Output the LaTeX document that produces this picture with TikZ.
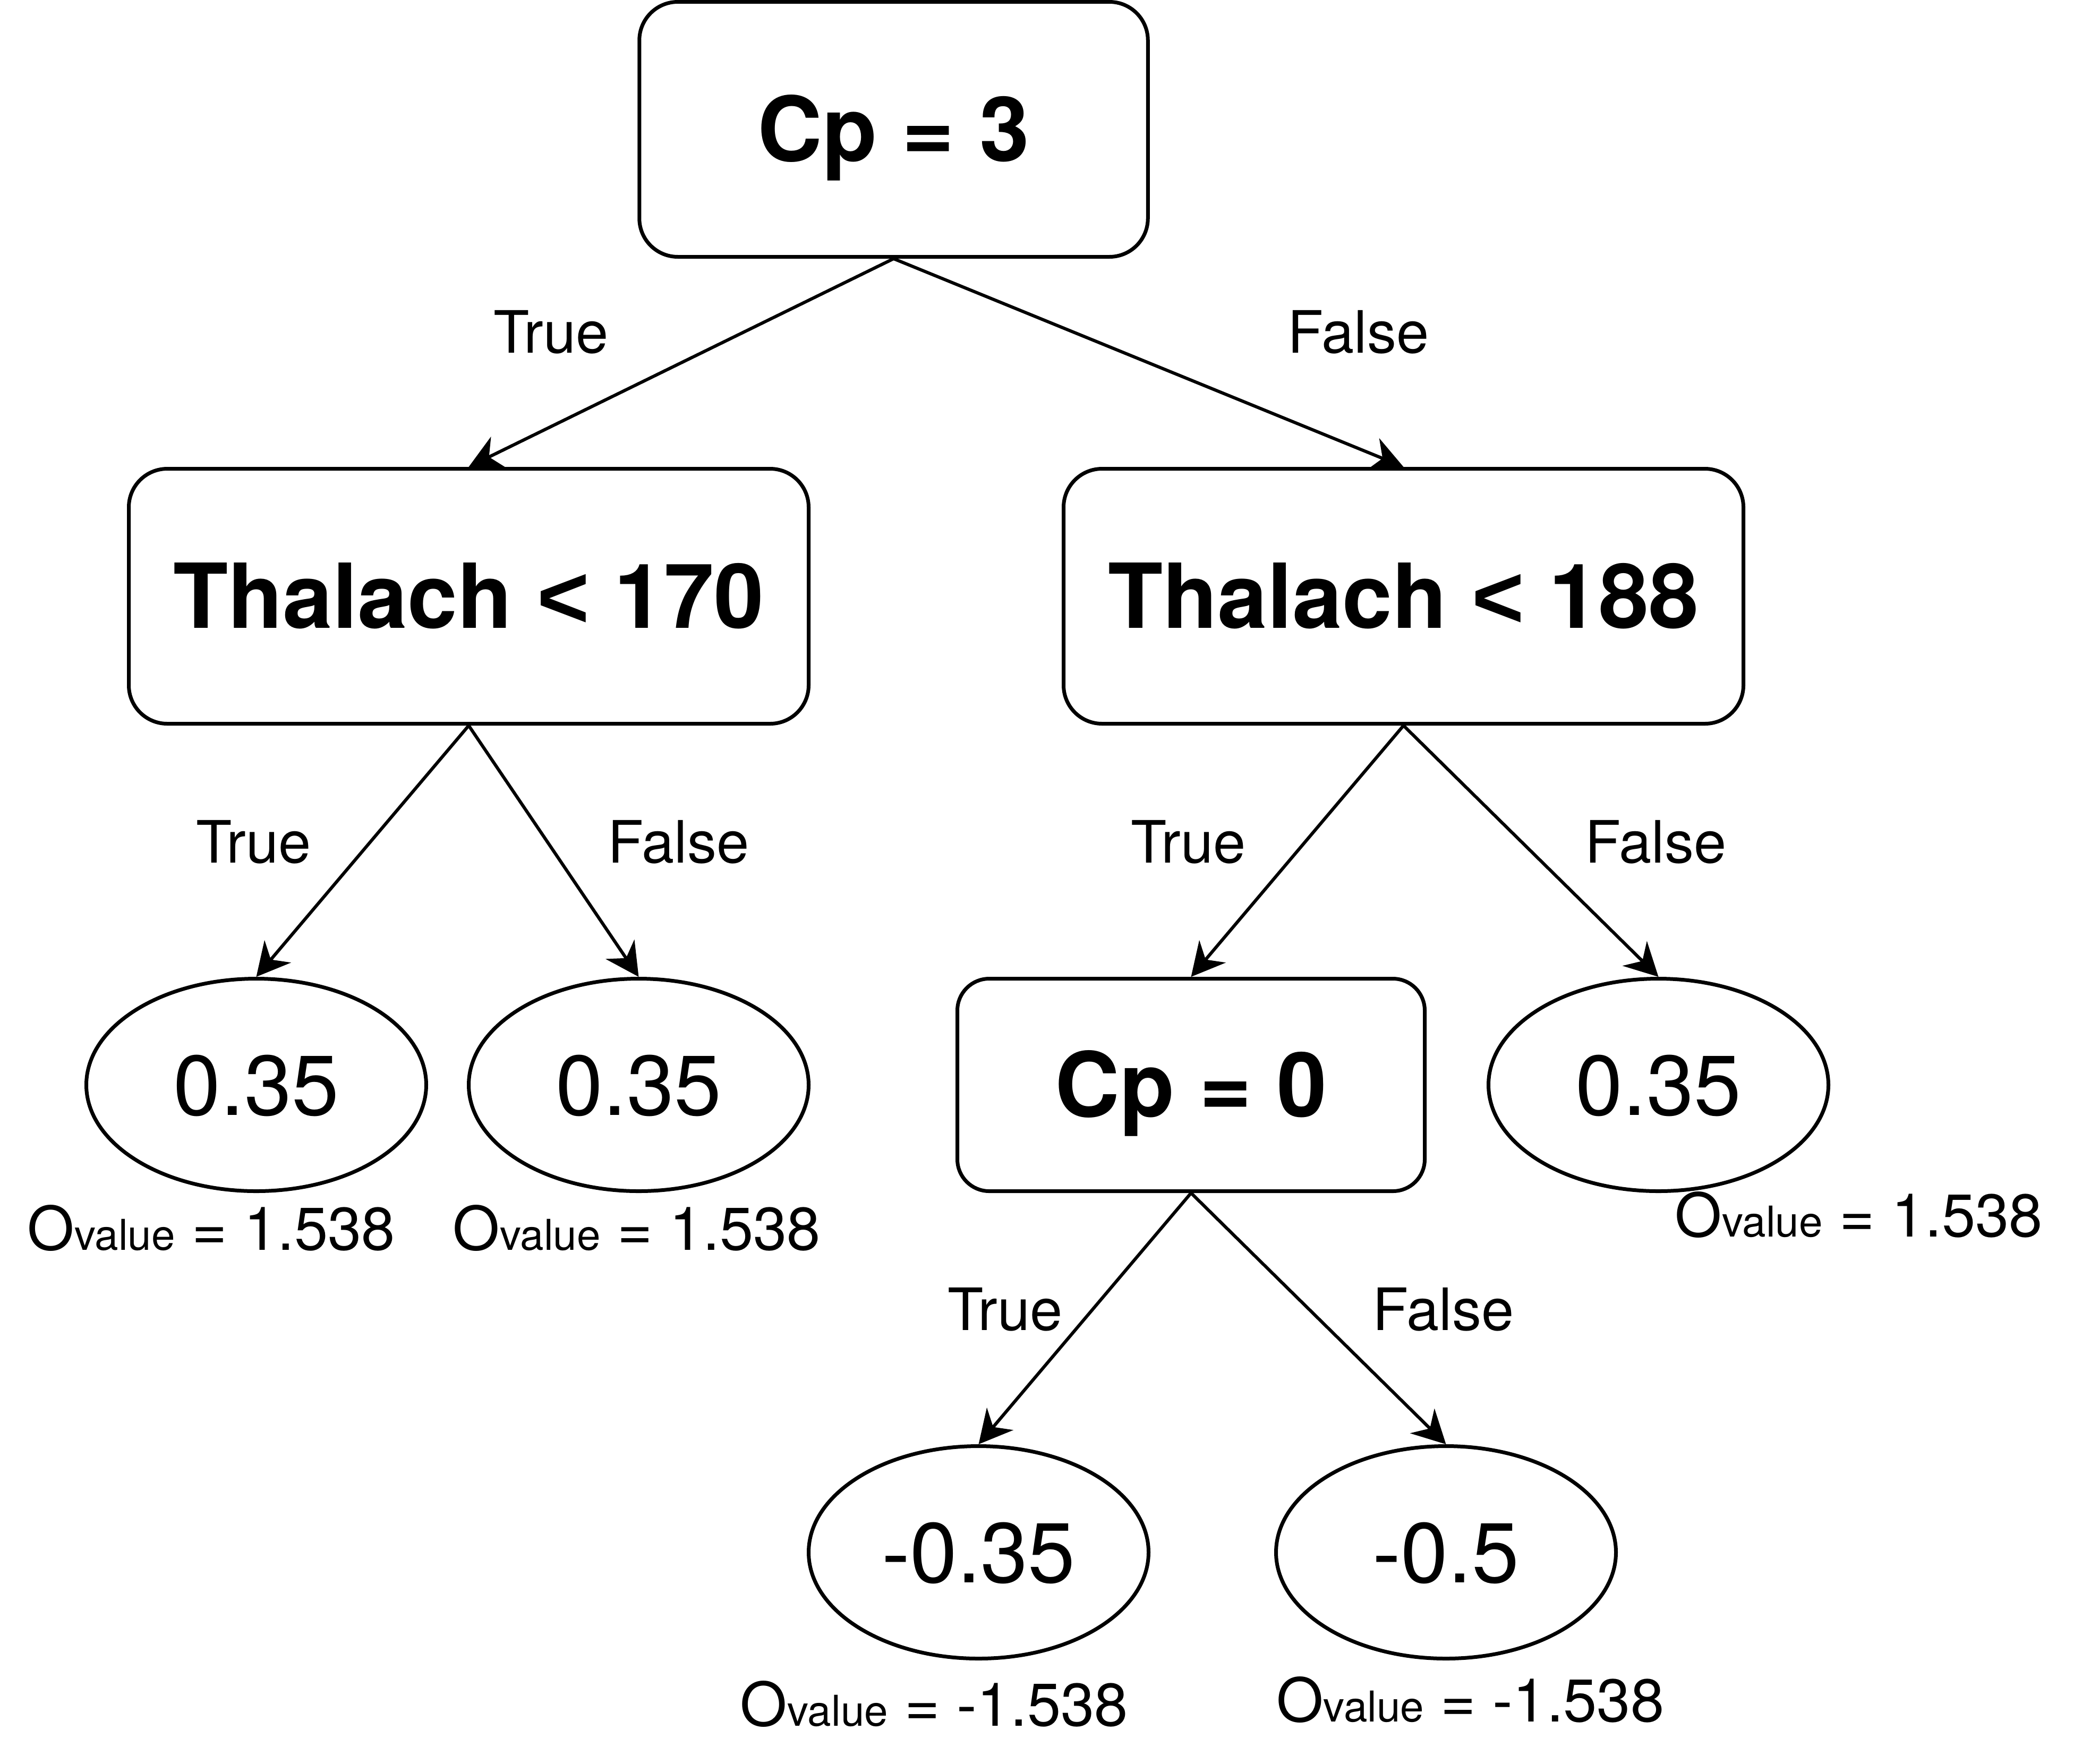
\documentclass[tikz,border=0pt]{standalone}
\usepackage{fontspec}
\setmainfont{TeX Gyre Heros}
\newfontfamily\ltfont{Liberation Sans}
\usetikzlibrary{shapes.geometric,arrows.meta}
\newcommand{\lessth}{{\ltfont\bfseries <}}
\newcommand{\ovlab}[1]{O{\fontsize{32}{34}\selectfont value} = #1}
\begin{document}
\begin{tikzpicture}[x=1pt,y=-1pt,
  box/.style={draw, line width=2.8pt, inner sep=0pt, font=\fontsize{67.5}{72}\selectfont\bfseries, text height=48pt, text depth=0pt},
  leaf/.style={draw, ellipse, line width=2.8pt, minimum width=256pt, minimum height=160pt, inner sep=0pt, font=\fontsize{64}{68}\selectfont, text height=45.4pt, text depth=0pt},
  lbl/.style={inner sep=0pt, font=\fontsize{44}{48}\selectfont, text height=31.6pt, text depth=0pt},
  ov/.style={inner sep=0pt, font=\fontsize{45.5}{48}\selectfont, text height=32.7pt, text depth=0pt},
  conn/.style={line width=2.4pt, -{Stealth[length=25pt,width=26pt,inset=8pt]}}
]
\useasboundingbox (0,0) rectangle (1568,1328);

\node[box, rounded corners=29pt, minimum width=383pt, minimum height=192pt] (root) at (673,97.4) {Cp = 3};
\node[box, rounded corners=29pt, minimum width=512pt, minimum height=192pt] (t170) at (353,449) {Thalach \lessth{} 170};
\node[box, rounded corners=29pt, minimum width=512pt, minimum height=192pt] (t188) at (1057,449) {Thalach \lessth{} 188};
\node[leaf] (l1) at (193,817) {0.35};
\node[leaf] (l2) at (481,817) {0.35};
\node[box, rounded corners=24pt, minimum width=352pt, minimum height=160pt] (cp0) at (897,817) {Cp = 0};
\node[leaf] (l3) at (1249,817) {0.35};
\node[leaf] (l4) at (737,1169) {-0.35};
\node[leaf] (l5) at (1089,1169) {-0.5};

\draw[conn] (root.south) -- (t170.north);
\draw[conn] (root.south) -- (t188.north);
\draw[conn] (t170.south) -- (l1.north);
\draw[conn] (t170.south) -- (l2.north);
\draw[conn] (t188.south) -- (cp0.north);
\draw[conn] (t188.south) -- (l3.north);
\draw[conn] (cp0.south) -- (l4.north);
\draw[conn] (cp0.south) -- (l5.north);

\node[lbl] (a1) at (415,250) {True};
\node[lbl] (a2) at (1023,250) {False};
\node[lbl] (a3) at (191,634) {True};
\node[lbl] (a4) at (511,634) {False};
\node[lbl] (a5) at (895,634) {True};
\node[lbl] (a6) at (1247,634) {False};
\node[lbl] (a7) at (757,986) {True};
\node[lbl] (a8) at (1087,986) {False};

\node[ov] (o1) at (159.2,925) {\ovlab{1.538}};
\node[ov] (o2) at (479.6,925) {\ovlab{1.538}};
\node[ov] (o3) at (1400,915) {\ovlab{1.538}};
\node[ov] (o4) at (703.6,1283.3) {\ovlab{-1.538}};
\node[ov] (o5) at (1107.3,1280.4) {\ovlab{-1.538}};
\end{tikzpicture}
\end{document}
